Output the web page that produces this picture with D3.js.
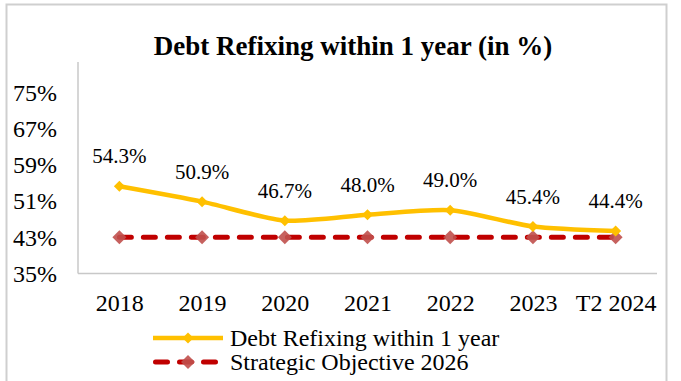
<!DOCTYPE html>
<html>
<head>
<meta charset="utf-8">
<script src="https://cdn.jsdelivr.net/npm/d3@7"></script>
<style>
  html, body { margin: 0; padding: 0; background: #fff; }
  svg { display: block; }
  text { font-family: "Liberation Serif", "Times New Roman", serif; fill: #000; }
</style>
</head>
<body>
<svg id="chart" width="681" height="381"></svg>
<script>
// Categories and series
const categories = ["2018", "2019", "2020", "2021", "2022", "2023", "T2 2024"];
const refixing = [54.3, 50.9, 46.7, 48.0, 49.0, 45.4, 44.4];
const objective = [43, 43, 43, 43, 43, 43, 43];
const yTicks = [35, 43, 51, 59, 67, 75];
const yDomain = [35, 81.8];

const titleText = "Debt Refixing within 1 year (in %)";
const seriesNames = ["Debt Refixing within 1 year", "Strategic Objective 2026"];

const W = 681, H = 381;
const plot = { left: 78, right: 657, top: 62, bottom: 273.5 };

const svg = d3.select("#chart");

// Outer frame
svg.append("rect")
  .attr("x", 6.5).attr("y", 4.5)
  .attr("width", 660).attr("height", 390)
  .attr("fill", "none")
  .attr("stroke", "#cfcfcf")
  .attr("stroke-width", 2);

// Title
svg.append("text")
  .attr("x", 353).attr("y", 55)
  .attr("text-anchor", "middle")
  .style("font-size", "27px")
  .style("font-weight", "bold")
  .text(titleText);

const x = d3.scalePoint().domain(categories).range([plot.left, plot.right]).padding(0.5);
const y = d3.scaleLinear().domain(yDomain).range([plot.bottom, plot.top]);

// Y axis (labels only, plus the vertical plot edge)
const yAxis = d3.axisLeft(y)
  .tickValues(yTicks)
  .tickSize(0)
  .tickPadding(21)
  .tickFormat(d => d + "%");
const yg = svg.append("g").attr("transform", `translate(${plot.left},0)`).call(yAxis);
yg.select(".domain").remove();
yg.selectAll("text")
  .style("font-family", "Liberation Serif, serif")
  .style("font-size", "24px")
  .attr("fill", "#000");

svg.append("line")
  .attr("x1", plot.left).attr("x2", plot.left)
  .attr("y1", plot.top).attr("y2", plot.bottom)
  .attr("stroke", "#c8c8c8").attr("stroke-width", 1.5);

// X axis
const xAxis = d3.axisBottom(x).tickSize(0).tickPadding(20);
const xg = svg.append("g").attr("transform", `translate(0,${plot.bottom})`).call(xAxis);
xg.select(".domain").remove();
xg.selectAll("text")
  .style("font-family", "Liberation Serif, serif")
  .style("font-size", "24px")
  .attr("fill", "#000");

svg.append("line")
  .attr("x1", plot.left).attr("x2", plot.right)
  .attr("y1", plot.bottom).attr("y2", plot.bottom)
  .attr("stroke", "#c8c8c8").attr("stroke-width", 1.5);

const YELLOW = "#FFC000";
const RED = "#C00000";
const RED_MARK = "#C0504D";

const diamond = (cx, cy, r) =>
  `M${cx},${cy - r}L${cx + r},${cy}L${cx},${cy + r}L${cx - r},${cy}Z`;

// Strategic objective: dashed red line with diamond markers
const objLine = d3.line()
  .x((d, i) => x(categories[i]))
  .y(d => y(d));
svg.append("path")
  .datum(objective)
  .attr("d", objLine)
  .attr("fill", "none")
  .attr("stroke", RED)
  .attr("stroke-width", 5)
  .attr("stroke-linecap", "round")
  .attr("stroke-dasharray", "12,12");

svg.append("g").selectAll("path")
  .data(objective)
  .join("path")
  .attr("d", (d, i) => diamond(x(categories[i]), y(d), 7))
  .attr("fill", RED_MARK)
  .attr("fill-opacity", 0.9);

// Debt refixing: smoothed yellow line with diamond markers
const refLine = d3.line()
  .x((d, i) => x(categories[i]))
  .y(d => y(d))
  .curve(d3.curveCardinal.tension(0.3));
svg.append("path")
  .datum(refixing)
  .attr("d", refLine)
  .attr("fill", "none")
  .attr("stroke", YELLOW)
  .attr("stroke-width", 4.5)
  .attr("stroke-linejoin", "round");

svg.append("g").selectAll("path")
  .data(refixing)
  .join("path")
  .attr("d", (d, i) => diamond(x(categories[i]), y(d), 5.5))
  .attr("fill", YELLOW);

// Value labels
svg.append("g").selectAll("text")
  .data(refixing)
  .join("text")
  .attr("x", (d, i) => x(categories[i]))
  .attr("y", d => y(d) - 23)
  .attr("text-anchor", "middle")
  .style("font-size", "21px")
  .text(d => d.toFixed(1) + "%");

// Legend
const lg = svg.append("g");
const legX0 = 153, legX1 = 223, legMid = 188;
const legY = [338, 362];

lg.append("line")
  .attr("x1", legX0).attr("x2", legX1)
  .attr("y1", legY[0]).attr("y2", legY[0])
  .attr("stroke", YELLOW).attr("stroke-width", 4.5);
lg.append("path")
  .attr("d", diamond(legMid, legY[0], 5.5))
  .attr("fill", YELLOW);

lg.append("line")
  .attr("x1", legX0 + 2.5).attr("x2", legX1 - 2.5)
  .attr("y1", legY[1]).attr("y2", legY[1])
  .attr("stroke", RED).attr("stroke-width", 5)
  .attr("stroke-linecap", "round")
  .attr("stroke-dasharray", "12,12");
lg.append("path")
  .attr("d", diamond(legMid, legY[1], 7))
  .attr("fill", RED_MARK)
  .attr("fill-opacity", 0.9);

lg.selectAll("text.leg")
  .data(seriesNames)
  .join("text")
  .attr("class", "leg")
  .attr("x", 230)
  .attr("y", (d, i) => legY[i] + 8)
  .style("font-size", "24px")
  .text(d => d);
</script>
</body>
</html>
